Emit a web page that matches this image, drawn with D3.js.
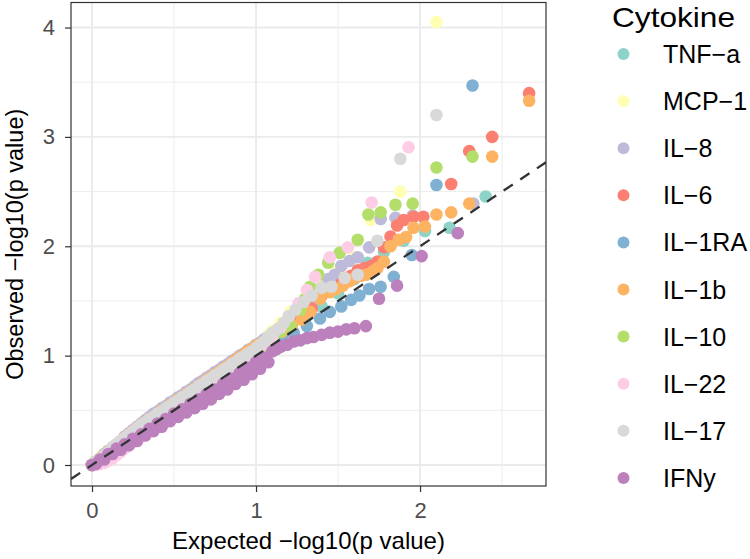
<!DOCTYPE html>
<html><head><meta charset="utf-8">
<script src="https://cdn.jsdelivr.net/npm/d3@7"></script>
<style>body{margin:0;background:#fff} svg{display:block;font-family:"Liberation Sans",Arial,Helvetica,sans-serif}</style>
</head><body><svg id="c" width="750" height="559"></svg>
<script>
// ---- data ----
const cytokines = ["TNF\u2212a","MCP\u22121","IL\u22128","IL\u22126","IL\u22121RA","IL\u22121b","IL\u221210","IL\u221222","IL\u221217","IFNy"];
const colors = ["#8DD3C7","#FFFFB3","#BEBADA","#FB8072","#80B1D3","#FDB462","#B3DE69","#FCCDE5","#D9D9D9","#BC80BD"];
const xTicks = [0,1,2];
const yTicks = [0,1,2,3,4];

// expected -log10(p) grid for the dense part of every series
const expectedGrid = [0,0.025,0.05,0.075,0.1,0.125,0.15,0.175,0.2,0.225,0.25,0.275,0.3,0.325,0.35,0.375,0.4,0.425,0.45,0.475,0.5,0.525,0.55,0.575,0.6,0.625,0.65,0.675,0.7,0.725,0.75,0.775,0.8,0.825,0.85,0.875,0.9,0.925,0.95,0.975,1.0,1.025,1.05,1.075,1.1];

// observed values at the grid (dense part)
const obsTNFa  = [0,.03,.05,.08,.11,.13,.16,.19,.21,.24,.26,.29,.31,.34,.36,.39,.41,.44,.46,.49,.51,.54,.56,.59,.61,.64,.66,.69,.71,.74,.76,.79,.81,.84,.86,.89,.91,.94,.96,.99,1.01,1.04,1.07,1.10,1.13];
const obsMCP1  = [0,.03,.07,.10,.13,.16,.19,.22,.26,.29,.32,.35,.38,.41,.43,.46,.48,.51,.53,.56,.58,.61,.63,.66,.68,.71,.73,.76,.78,.81,.83,.86,.88,.91,.93,.96,.98,1.01,1.03,1.06,1.08,1.11,1.15,1.19,1.23];
const obsIL8   = [0,.03,.06,.10,.13,.16,.19,.22,.26,.29,.32,.35,.38,.41,.44,.47,.49,.52,.54,.57,.59,.62,.64,.67,.69,.72,.75,.77,.80,.82,.85,.87,.90,.92,.95,.97,1.00,1.02,1.05,1.07,1.10,1.12,1.15,1.17,1.20];
const obsIL6   = [0,.03,.06,.09,.12,.15,.18,.21,.25,.28,.31,.34,.37,.39,.42,.44,.46,.49,.51,.54,.56,.59,.61,.64,.66,.69,.71,.74,.76,.79,.81,.84,.86,.89,.91,.94,.96,.99,1.01,1.04,1.06,1.09,1.11,1.14,1.16];
const obsIL1RA = [0,.02,.05,.07,.10,.12,.15,.17,.20,.22,.25,.27,.30,.32,.35,.37,.40,.42,.45,.47,.50,.52,.55,.57,.60,.62,.65,.67,.70,.72,.75,.77,.80,.82,.85,.87,.90,.92,.95,.97,1.00,1.02,1.05,1.07,1.10];
const obsIL1b  = [0,.03,.06,.09,.12,.15,.18,.21,.24,.27,.30,.33,.36,.39,.42,.44,.47,.50,.52,.55,.57,.60,.62,.65,.67,.70,.72,.75,.78,.80,.83,.85,.88,.90,.93,.96,.98,1.01,1.04,1.06,1.09,1.11,1.13,1.15,1.17];
const obsIL10  = [0,.03,.05,.08,.11,.14,.17,.20,.23,.26,.28,.31,.34,.37,.39,.42,.44,.47,.49,.52,.54,.57,.59,.62,.64,.67,.69,.72,.74,.77,.79,.82,.84,.87,.89,.92,.94,.97,.99,1.02,1.04,1.07,1.09,1.12,1.15];
const obsIL22  = [0,0,.01,.02,.04,.06,.09,.12,.15,.18,.21,.24,.27,.30,.33,.36,.39,.42,.45,.48,.51,.54,.57,.60,.63,.66,.69,.72,.75,.78,.80,.82,.85,.87,.90,.92,.95,.97,1.00,1.02,1.05,1.08,1.11,1.14,1.18];
const obsIL17  = [0,.03,.06,.09,.12,.16,.19,.22,.25,.28,.31,.34,.37,.39,.42,.44,.47,.49,.52,.54,.57,.59,.62,.64,.67,.69,.72,.74,.77,.79,.82,.84,.87,.89,.92,.94,.97,.99,1.02,1.04,1.07,1.10,1.13,1.17,1.21];
const obsIFNy  = [0,.01,.05,.05,.10,.10,.15,.14,.19,.18,.24,.22,.28,.27,.33,.31,.38,.35,.42,.40,.47,.44,.51,.48,.56,.52,.60,.56,.65,.60,.69,.65,.74,.69,.79,.74,.84,.78,.89,.83,.94,.88,.98,.94,1.04];

// upper tails: [expected, observed]
const tailTNFa  = [[1.2,1.22],[1.3,1.33],[1.4,1.45],[1.5,1.57],[1.6,1.70],[1.68,1.85],[1.78,1.95],[1.9,2.05],[2.03,2.14],[2.18,2.17],[2.40,2.455]];
const tailMCP1  = [[1.15,1.30],[1.21,1.40],[1.3,1.52],[1.4,1.64],[1.5,1.78],[1.6,1.90],[1.70,2.24],[1.88,2.50],[2.10,4.05]];
const tailIL8   = [[1.15,1.24],[1.2,1.30],[1.25,1.38],[1.3,1.45],[1.35,1.52],[1.4,1.62],[1.44,1.70],[1.48,1.74],[1.52,1.82],[1.57,1.865],[1.62,1.90],[1.69,1.99],[1.76,2.25],[1.85,2.26],[1.955,2.28],[2.325,2.39]];
const tailIL6   = [[1.16,1.23],[1.22,1.30],[1.28,1.36],[1.34,1.43],[1.40,1.55],[1.46,1.60],[1.52,1.66],[1.58,1.73],[1.62,1.78],[1.66,1.80],[1.70,1.82],[1.74,1.86],[1.78,1.99],[1.82,2.09],[1.86,2.19],[1.90,2.24],[1.96,2.27],[2.02,2.27],[2.19,2.57],[2.30,2.87],[2.44,3.00],[2.665,3.40]];
const tailIL1RA = [[1.16,1.16],[1.23,1.21],[1.31,1.27],[1.39,1.34],[1.45,1.40],[1.52,1.45],[1.58,1.51],[1.63,1.55],[1.69,1.61],[1.76,1.63],[1.84,1.72],[1.95,1.92],[2.10,2.56],[2.32,3.47]];
const tailIL1b  = [[1.16,1.22],[1.22,1.28],[1.28,1.33],[1.33,1.40],[1.39,1.52],[1.45,1.58],[1.49,1.61],[1.53,1.64],[1.57,1.68],[1.60,1.71],[1.64,1.73],[1.67,1.74],[1.71,1.77],[1.74,1.80],[1.78,1.86],[1.82,2.00],[1.87,2.06],[1.915,2.085],[1.96,2.17],[2.03,2.18],[2.10,2.29],[2.19,2.31],[2.30,2.39],[2.44,2.82],[2.665,3.33]];
const tailIL10  = [[1.15,1.22],[1.21,1.27],[1.27,1.42],[1.30,1.52],[1.33,1.63],[1.38,1.74],[1.44,1.85],[1.51,1.94],[1.62,2.06],[1.685,2.29],[1.76,2.31],[1.85,2.38],[1.955,2.39],[2.10,2.72],[2.32,2.82]];
const tailIL22  = [[1.15,1.26],[1.2,1.36],[1.26,1.48],[1.31,1.60],[1.36,1.72],[1.45,1.90],[1.56,1.99],[1.705,2.40],[1.93,2.905]];
const tailIL17  = [[1.13,1.24],[1.17,1.30],[1.2,1.36],[1.24,1.42],[1.29,1.49],[1.34,1.55],[1.40,1.62],[1.46,1.63],[1.54,1.71],[1.62,1.74],[1.74,2.05],[1.88,2.80],[2.10,3.20]];
const tailIFNy  = [[1.125,1.06],[1.15,1.08],[1.19,1.10],[1.23,1.13],[1.27,1.14],[1.31,1.16],[1.35,1.17],[1.40,1.19],[1.45,1.21],[1.50,1.22],[1.55,1.24],[1.60,1.25],[1.67,1.27],[1.75,1.52],[1.86,1.64],[2.01,1.91],[2.23,2.12]];

const denseAll = [obsTNFa,obsMCP1,obsIL8,obsIL6,obsIL1RA,obsIL1b,obsIL10,obsIL22,obsIL17,obsIFNy];
const tailAll  = [tailTNFa,tailMCP1,tailIL8,tailIL6,tailIL1RA,tailIL1b,tailIL10,tailIL22,tailIL17,tailIFNy];

// ---- drawing ----
const svg = d3.select("#c");
const P = {l:71, r:546, t:2.5, b:486};
const x = d3.scaleLinear().domain([-0.128, 2.768]).range([P.l, P.r]);
const y = d3.scaleLinear().domain([-0.192, 4.229]).range([P.b, P.t]);

svg.append("rect").attr("width",750).attr("height",559).attr("fill","#fff");
const g = svg.append("g");
const xMinor = [0.5,1.5,2.5], yMinor = [0.5,1.5,2.5,3.5];
g.selectAll(".xm").data(xMinor).join("line").attr("x1",d=>x(d)).attr("x2",d=>x(d)).attr("y1",P.t).attr("y2",P.b).attr("stroke","#EBEBEB").attr("stroke-width",0.9);
g.selectAll(".ym").data(yMinor).join("line").attr("y1",d=>y(d)).attr("y2",d=>y(d)).attr("x1",P.l).attr("x2",P.r).attr("stroke","#EBEBEB").attr("stroke-width",0.9);
g.selectAll(".xg").data(xTicks).join("line").attr("x1",d=>x(d)).attr("x2",d=>x(d)).attr("y1",P.t).attr("y2",P.b).attr("stroke","#EBEBEB").attr("stroke-width",1.9);
g.selectAll(".yg").data(yTicks).join("line").attr("y1",d=>y(d)).attr("y2",d=>y(d)).attr("x1",P.l).attr("x2",P.r).attr("stroke","#EBEBEB").attr("stroke-width",1.9);

svg.append("clipPath").attr("id","pc").append("rect").attr("x",P.l).attr("y",P.t).attr("width",P.r-P.l).attr("height",P.b-P.t);
const pts = svg.append("g").attr("clip-path","url(#pc)");
cytokines.forEach((c,i)=>{
  const data = expectedGrid.map((e,j)=>[e, denseAll[i][j]]).concat(tailAll[i]);
  pts.append("g").selectAll("circle").data(data).join("circle")
    .attr("cx",d=>x(d[0])).attr("cy",d=>y(d[1])).attr("r",6.3).attr("fill",colors[i]);
});
const dom = x.domain();
pts.append("line").attr("x1",x(dom[0])).attr("y1",y(dom[0])).attr("x2",x(dom[1])).attr("y2",y(dom[1]))
  .attr("stroke","#333").attr("stroke-width",2.3).attr("stroke-dasharray","11,9");

svg.append("rect").attr("x",P.l).attr("y",P.t).attr("width",P.r-P.l).attr("height",P.b-P.t).attr("fill","none").attr("stroke","#333").attr("stroke-width",1.2);

const xa = svg.append("g").attr("transform",`translate(0,${P.b})`).call(d3.axisBottom(x).tickValues(xTicks).tickSize(6).tickPadding(10).tickFormat(d3.format("d")));
const ya = svg.append("g").attr("transform",`translate(${P.l},0)`).call(d3.axisLeft(y).tickValues(yTicks).tickSize(6).tickPadding(10).tickFormat(d3.format("d")));
[xa,ya].forEach(a=>{
  a.select(".domain").remove();
  a.selectAll(".tick line").attr("stroke","#333").attr("stroke-width",1.2);
  a.selectAll(".tick text").attr("fill","#4D4D4D").attr("font-size",22).attr("font-family","Liberation Sans, Arial, sans-serif");
});

svg.append("text").attr("x",(P.l+P.r)/2).attr("y",549).attr("text-anchor","middle").attr("font-size",24).attr("fill","#000").text("Expected \u2212log10(p value)");
svg.append("text").attr("transform",`translate(22.5,${(P.t+P.b)/2}) rotate(-90)`).attr("text-anchor","middle").attr("font-size",23.5).attr("fill","#000").text("Observed \u2212log10(p value)");

const lg = svg.append("g");
lg.append("text").attr("x",612).attr("y",27).attr("font-size",28).attr("textLength",123).attr("lengthAdjust","spacingAndGlyphs").attr("fill","#000").text("Cytokine");
cytokines.forEach((c,i)=>{
  const cy = 54 + 47.1*i;
  lg.append("circle").attr("cx",623.5).attr("cy",cy).attr("r",6).attr("fill",colors[i]);
  lg.append("text").attr("x",663).attr("y",cy).attr("dy","0.36em").attr("font-size",25).attr("fill","#000").text(c);
});
</script></body></html>
